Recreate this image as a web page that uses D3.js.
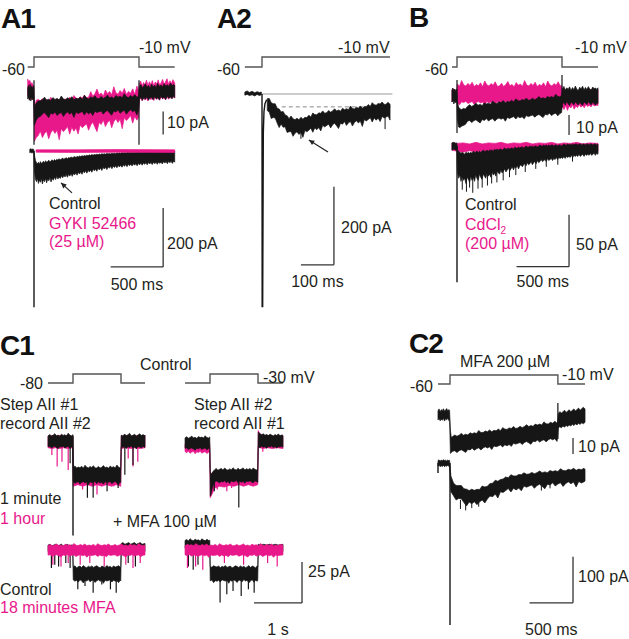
<!DOCTYPE html>
<html><head><meta charset="utf-8">
<script src="https://cdn.jsdelivr.net/npm/d3@7"></script>
<style>body{margin:0;background:#fff}text{font-family:"Liberation Sans",Arial,Helvetica,sans-serif}</style>
</head><body><script>
// ---------------- DATA (time in ms, current in pA, voltage in mV) ----------------
const A1_volt = [[-60,-60],[0,-60],[0,-10],[1000,-10],[1000,-60],[1340,-60]];
const A2_volt = [[-52,-60],[0,-60],[0,-10],[388,-10]];
const B_volt  = [[-48,-60],[0,-60],[0,-10],[1000,-10],[1000,-60],[1343,-60]];
const C1L_volt = [[-520,-80],[0,-80],[0,-30],[1000,-30],[1000,-80],[1500,-80]];
const C1R_volt = [[-520,-80],[0,-80],[0,-30],[1000,-30],[1000,-80],[1520,-80]];
const C2_volt = [[-138,-60],[0,-60],[0,-10],[1240,-10],[1240,-60],[1552,-60]];

// Current envelopes [t, low, high]
const A1_top_control = [[-60,-2.6,2.1],[-52,-1.8,3.4],[-45,-3.2,1.9],[-37,-2.1,3.8],[-30,-3.5,2.4],[-22,-1.7,2.9],[-15,-2.9,1.6],[-8,-2.2,3.1],[-2,-3.0,2.3],
 [4,-14,-6],[20,-12,-4.5],[40,-10.5,-3.5],[60,-10.2,-3.4],[80,-9.1,-2.9],[100,-8.5,-1.8],[120,-9.6,-3.1],[140,-10.7,-2.7],[160,-8.7,-3.3],[180,-9.2,-2.0],[200,-8.3,-2.8],[220,-9.8,-2.4],[240,-8.9,-3.0],[260,-8.5,-1.3],[280,-10.2,-2.6],[300,-8.9,-2.9],[320,-8.3,-2.1],[340,-9.2,-2.7],[360,-8.5,-1.6],[380,-10.6,-2.9],[400,-8.3,-2.3],[420,-8.9,-2.6],[440,-8.5,-1.7],[460,-8.0,-2.9],[480,-9.6,-1.0],[500,-8.2,-2.2],[520,-9.1,-2.6],[540,-8.4,-1.7],[560,-9.8,-2.2],[580,-7.9,-1.2],[600,-8.5,-2.4],[620,-8.1,-2.4],[640,-7.8,-1.5],[660,-9.2,-2.4],[680,-8.1,-1.9],[700,-7.6,-0.9],[720,-8.7,-2.2],[740,-9.7,-1.7],[760,-7.8,-2.4],[780,-8.3,-1.1],[800,-7.3,-1.8],[820,-8.8,-1.4],[840,-8.0,-2.1],[860,-7.5,-0.3],[880,-9.2,-1.6],[900,-8.0,-2.0],[920,-7.3,-1.1],[940,-8.2,-1.7],[960,-7.6,-0.7],[980,-9.6,-1.9],[996,-7.3,-1.3],
 [1004,-2.8,2.6],[1018,-1.9,3.7],[1033,-3.2,2.2],[1047,-2.0,3.1],[1060,-2.7,4.0],[1076,-1.6,2.5],[1090,-3.1,3.3],[1105,-2.2,2.0],[1119,-1.8,3.9],[1134,-2.9,2.7],[1150,-1.5,3.4],[1163,-2.6,2.3],[1178,-2.0,4.2],[1194,-3.0,2.8],[1208,-1.4,3.5],[1223,-2.4,2.6],[1239,-1.7,4.1],[1254,-2.8,3.0],[1270,-1.3,3.6],[1284,-2.3,2.9],[1300,-1.6,4.3],[1315,-2.5,3.2],[1329,-1.2,3.8],[1340,-2.0,3.3]];
const A1_top_gyki = [[-60,-1,6],[-50,-2,5],[-40,-3,5.5],[-30,-2,4],[-20,-3,4.5],[-10,-2,3.5],[-2,-3,3],
 [4,-21,-8],[20,-19.5,-3.2],[40,-18.5,-2.8],[60,-16.5,-3.4],[80,-19.4,-2.5],[100,-17.6,-3.3],[120,-16.6,-2.8],[140,-19.9,-3.5],[160,-17.3,-1.9],[180,-16.0,-3.0],[200,-17.6,-3.3],[220,-16.2,-2.5],[240,-20.3,-3.0],[260,-15.5,-2.0],[280,-16.8,-3.2],[300,-15.8,-2.6],[320,-14.6,-2.9],[340,-17.9,-1.8],[360,-14.9,-2.9],[380,-16.6,-1.1],[400,-15.2,-2.2],[420,-17.8,-2.6],[440,-13.9,-1.7],[460,-15.1,-2.2],[480,-14.2,-0.9],[500,-13.4,-2.0],[520,-16.2,-1.8],[540,-13.9,0.6],[560,-12.7,-1.4],[580,-14.8,-0.3],[600,-16.8,1.7],[620,-12.8,-0.8],[640,-13.7,0.0],[660,-11.7,-1.4],[680,-14.6,1.3],[700,-12.8,-0.3],[720,-11.8,0.6],[740,-15.1,-0.8],[760,-12.5,2.7],[780,-11.2,0.1],[800,-12.8,-0.5],[820,-11.4,1.1],[840,-15.5,-0.1],[860,-10.7,2.0],[880,-12.0,-0.6],[900,-11.0,0.7],[920,-9.8,-0.1],[940,-13.1,1.8],[960,-10.1,-0.6],[980,-11.8,3.0],[996,-10.4,0.8],
 [1004,-3.0,3.8],[1016,-2.1,5.2],[1029,-3.4,3.0],[1043,-1.9,4.6],[1057,-3.1,3.5],[1071,-2.3,5.6],[1085,-3.5,3.2],[1099,-1.8,4.9],[1113,-2.9,3.6],[1127,-2.2,5.4],[1141,-3.3,3.1],[1155,-1.6,4.8],[1169,-2.8,3.9],[1183,-2.0,5.7],[1197,-3.2,3.4],[1211,-1.7,4.5],[1225,-2.6,5.9],[1239,-2.1,3.7],[1253,-3.0,5.0],[1267,-1.5,6.2],[1281,-2.7,3.8],[1295,-1.9,5.3],[1309,-2.4,4.1],[1323,-1.6,5.8],[1340,-2.2,4.4]];
const A1_top_artifacts = [[0,5.5,-22.5],[1000,5.5,-22.5]];

const A1_bot_gyki = [[20,-4,4],[400,-5,4],[800,-4,5],[1340,-5,4]];
const A1_bot_control = [[-40,-6,6],[-30,-4,8],[-20,-7,5],[-10,-5,7],[-2,-6,5],
 [5,-70,-15],[14,-96,-32],[24,-104,-40],[33,-92,-44],[42,-110,-38],[52,-98,-45],[61,-106,-36],[71,-93,-42],[80,-112,-39],[90,-97,-35],[100,-104,-41],[110,-92,-33],[120,-108,-38],[131,-95,-36],[141,-101,-31],[152,-90,-37],[162,-105,-33],[173,-93,-30],[184,-99,-35],[195,-88,-29],[206,-97,-33],[217,-86,-28],[228,-95,-31],[239,-89,-26],[250,-93,-30],[262,-84,-27],[273,-91,-24],[284,-83,-28],[296,-88,-25],[307,-80,-23],[318,-89,-26],[330,-79,-22],[341,-85,-24],[353,-77,-20],[364,-86,-23],[376,-76,-21],[387,-81,-19],[399,-74,-22],[410,-82,-18],[422,-72,-20],[434,-78,-17],[445,-70,-19],[457,-79,-16],[469,-69,-18],[480,-74,-15],[492,-67,-17],[504,-75,-14],[515,-65,-16],[527,-71,-13],[539,-64,-15],[551,-72,-12],[563,-62,-14],[575,-67,-12],[587,-61,-13],[598,-69,-11],[610,-59,-13],[622,-64,-10],[634,-58,-12],[646,-66,-9],[658,-56,-11],[670,-61,-9],[682,-55,-11],[694,-63,-8],[706,-54,-10],[718,-58,-8],[730,-52,-10],[742,-60,-7],[754,-51,-9],[766,-56,-7],[778,-50,-9],[790,-57,-6],[802,-49,-8],[814,-54,-6],[826,-48,-8],[838,-55,-5],[850,-47,-7],[862,-52,-5],[874,-46,-7],[886,-53,-5],[898,-45,-6],[910,-50,-4],[922,-44,-6],[934,-51,-4],[946,-43,-6],[958,-48,-4],[970,-43,-5],[982,-50,-3],[994,-42,-5],[1006,-47,-3],[1018,-41,-5],[1030,-48,-3],[1042,-41,-4],[1054,-45,-2],[1066,-40,-4],[1078,-47,-2],[1090,-39,-4],[1102,-44,-2],[1114,-39,-4],[1126,-46,-1],[1138,-38,-3],[1150,-43,-2],[1162,-38,-4],[1174,-45,-1],[1186,-37,-3],[1198,-42,-1],[1210,-37,-3],[1222,-44,-1],[1234,-36,-3],[1246,-41,-1],[1258,-36,-2],[1270,-43,0],[1282,-35,-2],[1294,-40,0],[1306,-35,-2],[1318,-42,0],[1330,-34,-2],[1340,-38,-1]];
const A1_bot_artifacts = [[0,0,-530]];

const A2_pre = [[-52,-3,5],[-45,-1,8],[-38,-4,4],[-30,-2,7],[-22,-5,3],[-15,-1,6],[-8,-4,4],[-2,-2,5]];
const A2_transient = [[0,0],[0.5,-545],[2,-545],[4,-100],[6,-45],[9,-25],[14,-15]];
const A2_control = [[16,-42.5,-12],[22,-46.4,-11.4],[28,-62.9,-22.6],[34,-60.2,-24.8],[40,-61.7,-25],[46,-74.4,-36.4],[52,-86.1,-38.4],[58,-76.8,-46],[64,-85.3,-44.6],[70,-84,-53.6],[76,-98.5,-55.6],[82,-96.9,-63.2],[88,-96.1,-56.4],[94,-108.5,-63.7],[100,-100.6,-65.8],[106,-96.9,-62.3],[112,-103.7,-66],[118,-98.5,-59.8],[124,-111.2,-64.6],[130,-93.6,-59.9],[136,-97,-60.4],[142,-92.7,-54.5],[148,-87.7,-59],[154,-98.1,-48.7],[160,-86.8,-52.8],[166,-91.6,-53.3],[172,-85.9,-48.2],[178,-94.7,-49.6],[184,-80.4,-43.4],[190,-84.3,-49.2],[196,-80.5,-47.8],[202,-77.4,-42.4],[208,-86.9,-46.6],[214,-78.7,-43.3],[220,-74.7,-38],[226,-81.4,-43.4],[232,-88.6,-40.9],[238,-74.8,-44],[244,-77.3,-36.6],[250,-70.5,-40.1],[256,-80.5,-37.6],[262,-73.9,-40.2],[268,-70.6,-30.9],[274,-82,-37.2],[280,-73.1,-38.3],[286,-68.4,-33.8],[292,-74.2,-36.5],[298,-69.5,-30.8],[304,-83.2,-36.6],[310,-65.6,-31.9],[316,-69,-32.4],[322,-65.2,-27],[328,-60.7,-32],[334,-71.6,-22.2],[340,-61.3,-27.3],[346,-67.1,-28.8],[352,-61.9,-24.2],[358,-70.7,-25.6],[364,-57.4,-20.4],[370,-61.8,-26.7],[376,-59,-26.3],[382,-56.4,-21.4],[388,-66.9,-26.6]];
const A2_spikes = [[118,-80,-115],[373,-45,-90]];
const A2_baseline = [0, 395];
const A2_plateau = [-33, 60, 395];

const B_top_control = [[-48,-3,3],[-40,-2,4],[-30,-4,2.5],[-20,-2.5,3.5],[-10,-3.5,2],[-2,-2,3.5],
 [4,-12,-3],[15,-15.5,-5.5],[30,-15.8,-6.5],[45,-15,-6.8],[60,-14.8,-6.2],[80,-14.2,-6.5],
 [100,-12.6,-5.2],[120,-12.2,-4.4],[140,-13.3,-5.2],[160,-12.4,-4.6],[180,-11.9,-3.6],[200,-12.7,-4.6],[220,-13.5,-4.2],[240,-11.8,-4.7],[260,-12.2,-3.5],[280,-11.3,-4.0],[300,-12.5,-3.6],[320,-11.7,-4.1],[340,-11.3,-2.5],[360,-12.6,-3.5],[380,-11.5,-3.7],[400,-11.0,-2.9],[420,-11.6,-3.3],[440,-11.0,-2.3],[460,-12.6,-3.4],[480,-10.7,-2.7],[500,-11.2,-3.0],[520,-10.7,-2.1],[540,-10.3,-3.0],[560,-11.5,-1.4],[580,-10.3,-2.3],[600,-10.9,-2.5],[620,-10.4,-1.8],[640,-11.4,-2.1],[660,-9.8,-1.0],[680,-10.3,-2.1],[700,-9.9,-1.9],[720,-9.5,-1.1],[740,-10.6,-1.9],[760,-9.7,-1.3],[780,-9.2,-0.3],[800,-10.0,-1.3],[820,-10.8,-0.9],[840,-9.1,-1.4],[860,-9.5,-0.2],[880,-8.6,-0.7],[900,-9.8,-0.3],[920,-9.0,-0.8],[940,-8.6,0.9],[960,-9.9,-0.2],[980,-8.8,-0.4],[996,-8.3,0.4],
 [1004,-4.2,3.6],[1018,-3.1,4.8],[1031,-4.6,2.9],[1045,-2.8,4.1],[1059,-3.9,3.3],[1072,-4.8,4.6],[1086,-3.0,2.8],[1100,-3.7,4.2],[1114,-4.4,3.1],[1127,-2.9,5.0],[1141,-3.8,3.4],[1155,-4.5,2.7],[1168,-3.2,4.4],[1182,-3.9,3.6],[1196,-4.7,4.9],[1210,-3.0,3.0],[1223,-3.6,4.3],[1237,-4.3,3.2],[1251,-2.8,4.7],[1264,-3.7,3.5],[1278,-4.4,2.9],[1292,-3.1,4.5],[1306,-3.8,3.7],[1320,-4.6,4.0],[1333,-3.3,3.3],[1343,-3.8,4.1]];
const B_top_cd = [[-48,-3,3],[-30,-2,3.5],[-10,-3,2.5],[-2,-2,3],
 [4,-3.6,6.0],[24,-4.4,4.9],[44,-2.9,7.7],[64,-3.3,5.5],[84,-2.6,5.0],[104,-3.8,6.3],[124,-3.2,5.3],[144,-2.8,6.9],[164,-4.2,4.7],[184,-3.2,5.8],[204,-2.8,5.1],[224,-3.5,6.6],[244,-3.0,4.6],[264,-4.7,7.5],[284,-2.8,5.6],[304,-3.4,5.0],[324,-3.1,6.2],[344,-2.7,5.4],[364,-4.0,7.1],[384,-2.9,4.9],[404,-3.6,5.0],[424,-3.2,6.4],[444,-4.3,4.7],[464,-2.8,5.6],[484,-3.3,7.2],[504,-3.0,5.1],[524,-2.8,5.8],[544,-4.0,4.6],[564,-3.1,6.7],[584,-2.7,5.4],[604,-3.6,6.0],[624,-4.4,4.9],[644,-2.9,7.7],[664,-3.3,5.5],[684,-2.6,5.0],[704,-3.8,6.3],[724,-3.2,5.3],[744,-2.8,6.9],[764,-4.2,4.7],[784,-3.2,5.8],[804,-2.8,5.1],[824,-3.5,6.6],[844,-3.0,4.6],[864,-4.7,7.5],[884,-2.8,5.6],[904,-3.4,5.0],[924,-3.1,6.2],[944,-2.7,5.4],[964,-4.0,7.1],[984,-2.9,4.9],[996,-3.2,5.6],
 [1004,-5.5,2.8],[1020,-6.8,2.2],[1036,-4.6,3.1],[1052,-7.2,2.5],[1068,-5.1,3.4],[1084,-6.0,2.0],[1100,-4.4,2.9],[1116,-6.6,2.4],[1132,-5.0,3.3],[1148,-5.8,2.1],[1164,-4.3,3.0],[1180,-5.6,2.6],[1196,-4.8,3.5],[1212,-5.9,2.3],[1228,-4.2,2.8],[1244,-5.3,3.1],[1260,-4.6,2.2],[1276,-5.5,3.4],[1292,-4.1,2.7],[1308,-5.0,3.0],[1324,-4.5,2.4],[1343,-4.8,3.2]];
const B_top_artifacts = [[0,8,-18.5],[1000,10.5,-5.5]];
const B_bot_cd = [[-48,-4,3],[0,-5,2.5],[60,-6,3],[120,-4.5,2],[180,-6,3.5],[240,-5,2],[300,-6.5,3],[360,-4.5,2.5],[420,-6,3.5],[480,-5,2],[540,-6,3],[600,-4.5,2.5],[660,-6,3.5],[720,-5,2],[780,-6.5,3],[840,-4.5,2.5],[900,-6,3.5],[960,-5,2],[1020,-6,3],[1080,-4.5,2.5],[1140,-6,3.5],[1200,-5,2],[1260,-6,3],[1343,-5,2.5]];
const B_bot_control = [[-48,-4,3],[-30,-3,3.5],[-10,-4,2.5],[-2,-3,3],
 [4,-25,-4],[15,-31,-5],[27,-28,-6],[38,-34,-7],[50,-29,-6],[62,-33,-7],[73,-31,-8],[85,-36,-6],[97,-30,-7],[108,-32,-6],[120,-35,-7],[131,-29,-6],[143,-33,-7],[155,-30,-5],[167,-34,-6],[178,-28,-6],[190,-31,-5],[202,-33,-6],[214,-27,-5],[226,-30,-6],[238,-32,-5],[250,-27,-4],[262,-29,-5],[274,-31,-5],[286,-26,-4],[298,-29,-5],[310,-27,-4],[322,-30,-4],[334,-25,-4],[346,-28,-5],[358,-26,-3],[370,-29,-4],[382,-24,-3],[394,-26,-4],[406,-27,-3],[418,-23,-3],[430,-26,-4],[442,-24,-3],[454,-22,-2],[466,-25,-3],[478,-23,-3],[490,-21,-2],[502,-24,-3],[514,-22,-2],[526,-20,-2],[538,-23,-3],[550,-20,-1],[562,-21,-2],[574,-19,-2],[586,-22,-1],[598,-19,-2],[610,-18,-1],[622,-20,-1],[634,-18,-2],[646,-17,-1],[658,-19,0],[670,-16,-1],[682,-18,-1],[694,-17,0],[706,-15,-1],[718,-18,0],[730,-16,-1],[742,-15,0],[754,-17,0],[766,-14,-1],[778,-16,0],[790,-15,1],[802,-13,0],[814,-15,0],[826,-14,1],[838,-13,0],[850,-15,1],[862,-12,0],[874,-14,1],[886,-13,0],[898,-12,1],[910,-14,1],[922,-12,0],[934,-13,1],[946,-11,1],[958,-13,0],[970,-11,1],[982,-12,1],[994,-11,0],[1006,-12,1],[1018,-10,2],[1030,-12,1],[1042,-10,1],[1054,-11,2],[1066,-10,1],[1078,-11,2],[1090,-9,1],[1102,-11,2],[1114,-9,1],[1126,-10,2],[1138,-9,2],[1150,-10,1],[1162,-8,2],[1174,-10,2],[1186,-9,1],[1198,-8,2],[1210,-10,2],[1222,-8,1],[1234,-9,2],[1246,-8,2],[1258,-9,1],[1270,-7,2],[1282,-9,2],[1294,-8,1],[1306,-7,2],[1318,-9,2],[1330,-7,1],[1343,-8,2]];
const B_bot_spikes = [[50,-25,-42],[90,-28,-44],[120,-27,-40],[150,-28,-45],[200,-26,-41],[240,-25,-40],[290,-24,-38],[330,-24,-36],[380,-22,-35],[440,-20,-33],[500,-19,-30],[560,-17,-28],[650,-15,-25],[750,-13,-22],[850,-11,-20],[960,-10,-18],[1100,-8,-15]];
const B_bot_artifacts = [[0,0,-131]];

const C1_UL_1min = [[-520,-2.9,3.7],[-485,-2.6,4.6],[-450,-3.7,3.6],[-415,-2.9,4.1],[-380,-2.6,5.1],[-345,-3.3,3.8],[-310,-4.1,4.2],[-275,-2.8,3.5],[-240,-3.1,4.8],[-205,-2.5,4.0],[-170,-3.6,4.4],[-135,-3.0,3.7],[-100,-2.7,5.4],[-65,-3.9,4.1],[-30,-3.1,3.7],[-5,-2.6,4.5],
 [5,-24,-15.6],[40,-25.2,-14.6],[75,-24.6,-15.9],[110,-24.2,-15.3],[145,-25.6,-15.7],[180,-24.6,-14.8],[215,-24.2,-16],[250,-24.9,-14.2],[285,-24.4,-15.4],[320,-26.1,-15.8],[355,-24.2,-15],[390,-24.8,-15.5],[425,-24.5,-14.5],[460,-24.1,-15.8],[495,-25.4,-15.8],[530,-24.3,-14.9],[565,-25,-15.9],[600,-24.6,-15.4],[635,-25.7,-14.4],[670,-24.2,-15.7],[705,-24.7,-15.3],[740,-24.4,-16],[775,-24.2,-14.7],[810,-25.4,-15.5],[845,-24.5,-15.1],[880,-24.1,-15.8],[915,-25,-14.1],[950,-25.8,-15.4],[985,-24.3,-15.8],[995,-24.7,-15.0],
 [1005,-2.8,4.2],[1040,-3.4,3.6],[1075,-2.6,4.9],[1110,-3.9,3.8],[1145,-2.9,4.4],[1180,-3.2,5.3],[1215,-2.5,3.7],[1250,-3.6,4.1],[1285,-3.0,4.7],[1320,-4.2,3.5],[1355,-2.7,4.3],[1390,-3.1,5.0],[1425,-3.5,3.9],[1460,-2.6,4.5],[1495,-3.3,3.7],[1500,-2.9,4.2]];
const C1_UL_1hour = [[-520,-3.5,3.5],[-440,-4,4],[-360,-3.5,3.5],[-280,-4,4],[-200,-3.5,3.5],[-120,-4,4],[-40,-3.5,3.5],[-5,-4,3],
 [5,-27,-17],[100,-26,-16],[200,-27,-17],[300,-26,-16],[400,-27,-17],[500,-26,-16],[600,-27,-17],[700,-26,-16],[800,-27,-17],[900,-26,-16],[995,-27,-17],
 [1005,-4,3.5],[1100,-3.5,4],[1200,-4,3.5],[1300,-3.5,4],[1400,-4,3.5],[1500,-3.5,4]];
const C1_UL_1min_spikes = [[-60,-2,-13],[300,-24,-34],[420,-24,-34],[710,-24,-30],[940,-24,-28],[1080,-2,-20],[1250,-2,-14]];
const C1_UL_1hour_spikes = [[-440,-3,-8],[-330,-3,-15],[-230,-3,-12],[-100,-3,-17],[200,-24,-29],[500,-24,-32],[850,-24,-27],[1150,-3,-10],[1250,-3,-15],[1350,-3,-12]];
const C1_UL_artifacts = [[0,4,-57]];

const C1_UR_1min = [[-520,-3.8,2.5],[-485,-3.6,3.2],[-450,-4.6,2.3],[-415,-3.9,2.8],[-380,-3.6,3.6],[-345,-4.2,2.5],[-310,-5.0,2.9],[-275,-3.8,2.2],[-240,-4.1,3.3],[-205,-3.5,2.7],[-170,-4.5,3.0],[-135,-3.9,2.4],[-100,-3.7,3.8],[-65,-4.8,2.7],[-30,-4.0,2.4],[-5,-3.6,3.1],
 [5,-33,-18],[20,-32,-20],[40,-29,-19],[60,-27,-18],
 [95,-24.6,-17.0],[130,-23.8,-16.1],[165,-24.2,-17.3],[200,-25.0,-16.6],[235,-23.9,-16.2],[270,-24.4,-17.1],[305,-23.6,-15.9],[340,-24.8,-16.8],[375,-24.0,-17.2],[410,-25.3,-16.4],[445,-23.7,-16.9],[480,-24.3,-15.7],[515,-24.1,-16.7],[550,-23.5,-17.0],[585,-24.9,-16.0],[620,-23.9,-16.9],[655,-24.5,-16.5],[690,-24.0,-15.8],[725,-25.1,-17.1],[760,-23.8,-16.3],[795,-24.2,-16.8],[830,-23.6,-16.2],[865,-24.4,-17.0],[900,-24.9,-15.9],[935,-23.7,-16.6],[970,-24.1,-17.2],[995,-24.6,-16.1],
 [1005,-2.8,6.0],[1040,-3.5,5.1],[1075,-2.6,4.4],[1110,-3.2,5.0],[1145,-2.9,4.1],[1180,-3.8,4.6],[1215,-2.7,3.9],[1250,-3.1,4.8],[1285,-2.5,4.2],[1320,-3.4,3.7],[1355,-2.8,4.5],[1390,-3.6,4.0],[1425,-2.9,4.9],[1460,-3.0,3.8],[1495,-2.6,4.3],[1520,-3.2,4.1]];
const C1_UR_1hour = [[-520,-5.8,-1.2],[-485,-6.6,-0.8],[-450,-5.5,-1.5],[-415,-6.9,-1.0],[-380,-6.1,-0.6],[-345,-5.7,-1.3],[-310,-7.2,-1.1],[-275,-6.0,-0.7],[-240,-6.4,-1.4],[-205,-5.6,-0.9],[-170,-6.8,-1.2],[-135,-6.2,-0.5],[-100,-5.9,-1.0],[-65,-7.0,-1.3],[-30,-6.3,-0.8],[-5,-6.0,-1.1],
 [5,-34,-20],[40,-32,-19],[100,-28,-18],[200,-27,-18],[300,-27.5,-18],[400,-26.5,-17.5],[500,-27,-18],[600,-26,-17.5],[700,-27,-18],[800,-26,-17.5],[900,-27,-18],[995,-26,-17.5],
 [1005,-3,7],[1040,-3.5,5],[1100,-4,4],[1200,-3.5,4],[1300,-4,3.5],[1400,-3.5,4],[1520,-4,3.5]];
const C1_UR_1min_spikes = [[600,-22,-40],[90,-24,-30]];
const C1_UR_1hour_spikes = [[150,-23,-29],[350,-23,-30],[450,-23,-28],[1100,-2,-6]];

const C1_LL_control = [[-520,-1,3],[-480,-0.5,3.5],[-440,-1.5,2.5],[-400,-0.5,3],[-360,-1,3.5],[-320,-1.5,2.5],[-280,-0.5,3],[-240,-1,3.5],[-200,-1.5,2.5],[-160,-0.5,3],[-120,-1,3.5],[-80,-1.5,2.5],[-40,-0.5,3],[-5,-1,3],
 [5,-18.2,-10.4],[40,-19.0,-9.6],[75,-18.5,-10.9],[110,-19.6,-10.2],[145,-18.1,-9.8],[180,-18.8,-10.7],[215,-20.1,-9.5],[250,-18.4,-10.3],[285,-18.9,-10.8],[320,-18.0,-9.9],[355,-19.4,-10.5],[390,-18.6,-9.7],[425,-18.3,-10.6],[460,-19.8,-10.1],[495,-18.7,-9.6],[530,-18.2,-10.4],[565,-19.1,-10.9],[600,-18.5,-9.8],[635,-20.3,-10.2],[670,-18.4,-10.6],[705,-18.9,-9.5],[740,-18.6,-10.3],[775,-18.1,-10.0],[810,-19.5,-10.8],[845,-18.5,-9.7],[880,-19.0,-10.4],[915,-18.7,-10.1],[950,-19.9,-9.6],[985,-18.3,-10.5],[995,-18.8,-10.2],
 [1005,-1,4],[1040,-0.5,4.5],[1080,-1.5,3.5],[1120,-0.5,4],[1160,-1,4.5],[1200,-1.5,3.5],[1240,-0.5,4],[1280,-1,4.5],[1320,-1.5,3.5],[1360,-0.5,4],[1400,-1,4.5],[1440,-1.5,3.5],[1500,-1,4]];
const C1_LL_mfa = [[-520,-3.1,2.7],[-475,-2.9,3.3],[-430,-3.8,2.6],[-385,-3.2,3.0],[-340,-2.9,3.7],[-295,-3.5,2.7],[-250,-4.2,3.0],[-205,-3.0,2.5],[-160,-3.3,3.5],[-115,-2.8,2.9],[-70,-3.7,3.2],[-25,-3.2,2.6],[20,-3.0,3.9],[65,-4.0,2.9],[110,-3.2,2.7],[155,-2.9,3.3],[200,-3.5,2.8],[245,-3.1,3.6],[290,-4.4,2.6],[335,-3.0,3.0],[380,-3.4,2.7],[425,-3.2,3.4],[470,-2.9,2.5],[515,-3.9,3.8],[560,-3.0,3.0],[605,-3.6,2.7],[650,-3.2,3.2],[695,-4.1,2.9],[740,-2.9,3.6],[785,-3.3,2.6],[830,-3.1,2.7],[875,-2.9,3.3],[920,-3.8,2.6],[965,-3.2,3.0],[1010,-2.9,3.7],[1055,-3.5,2.7],[1100,-4.2,3.0],[1145,-3.0,2.5],[1190,-3.3,3.5],[1235,-2.8,2.9],[1280,-3.7,3.2],[1325,-3.2,2.6],[1370,-3.0,3.9],[1415,-4.0,2.9],[1460,-3.2,2.7],[1500,-3.0,3.0]];
const C1_LL_control_spikes = [[-450,0,-11],[-380,0,-9],[-300,0,-10],[-150,0,-8],[-60,0,-11],[100,-17,-24],[250,-17,-22],[420,-17,-26],[600,-17,-21],[780,-17,-24],[900,-17,-26],[1150,0,-8],[1300,0,-10]];
const C1_LL_mfa_spikes = [[-420,-2,-9],[-250,-2,-10],[-100,-2,-8],[150,-2,-9],[350,-2,-8],[650,-2,-10],[1100,-2,-9],[1250,-2,-11],[1400,-2,-8]];

const C1_LR_control = [[-520,1.0,5.8],[-485,1.5,6.4],[-450,0.6,5.5],[-415,1.2,6.9],[-380,0.8,6.0],[-345,1.7,5.7],[-310,0.9,6.6],[-275,1.3,5.9],[-240,0.5,6.2],[-205,1.1,5.4],[-170,1.6,6.8],[-135,0.7,6.1],[-100,1.2,5.6],[-65,0.9,6.5],[-30,1.4,5.8],[-5,1.0,6.0],
 [5,-18.8,-10.2],[40,-18.3,-10.5],[75,-19.9,-9.6],[110,-18.7,-10.1],[145,-19.0,-10.4],[180,-18.5,-9.7],[215,-19.5,-10.8],[250,-18.1,-10.0],[285,-18.6,-10.3],[320,-18.9,-9.5],[355,-18.4,-10.6],[390,-20.3,-10.2],[425,-18.5,-9.8],[460,-19.1,-10.9],[495,-18.2,-10.4],[530,-18.7,-9.6],[565,-19.8,-10.1],[600,-18.3,-10.6],[635,-18.6,-9.7],[670,-19.4,-10.5],[705,-18.0,-9.9],[740,-18.9,-10.8],[775,-18.4,-10.3],[810,-20.1,-9.5],[845,-18.8,-10.7],[880,-18.1,-9.8],[915,-19.6,-10.2],[950,-18.5,-10.9],[985,-19.0,-9.6],[995,-18.2,-10.4],
 [1005,-1,3.5],[1060,-1.5,3],[1120,-0.5,3.5],[1180,-1,3],[1240,-1.5,3.5],[1300,-0.5,3],[1360,-1,3.5],[1420,-1.5,3],[1520,-1,3.5]];
const C1_LR_mfa = [[-520,-3.0,2.5],[-475,-3.3,3.5],[-430,-2.8,2.9],[-385,-3.7,3.2],[-340,-3.2,2.6],[-295,-3.0,3.9],[-250,-4.0,2.9],[-205,-3.2,2.7],[-160,-2.9,3.3],[-115,-3.5,2.8],[-70,-3.1,3.6],[-25,-4.4,2.6],[20,-3.0,3.0],[65,-3.4,2.7],[110,-3.2,3.4],[155,-2.9,2.5],[200,-3.9,3.8],[245,-3.0,3.0],[290,-3.6,2.7],[335,-3.2,3.2],[380,-4.1,2.9],[425,-2.9,3.6],[470,-3.3,2.6],[515,-3.1,2.7],[560,-2.9,3.3],[605,-3.8,2.6],[650,-3.2,3.0],[695,-2.9,3.7],[740,-3.5,2.7],[785,-4.2,3.0],[830,-3.0,2.5],[875,-3.3,3.5],[920,-2.8,2.9],[965,-3.7,3.2],[1010,-3.2,2.6],[1055,-3.0,3.9],[1100,-4.0,2.9],[1145,-3.2,2.7],[1190,-2.9,3.3],[1235,-3.5,2.8],[1280,-3.1,3.6],[1325,-4.4,2.6],[1370,-3.0,3.0],[1415,-3.4,2.7],[1460,-3.2,3.4],[1520,-3.0,3.0]];
const C1_LR_control_spikes = [[-450,1,-10],[-350,1,-12],[-250,1,-9],[210,-17,-32],[350,-17,-27],[480,-17,-25],[650,-17,-28],[800,-17,-24],[920,-17,-26]];
const C1_LR_mfa_spikes = [[-470,-2,-11],[-300,-2,-10],[-150,-2,-12],[300,-2,-8],[700,-2,-9],[1200,-2,-8],[1400,-2,-10]];

const C2_top = [[-138,-3.1,2.6],[-126,-2.2,3.8],[-113,-3.6,2.1],[-101,-2.6,3.3],[-88,-3.3,2.7],[-76,-2.0,3.9],[-63,-3.8,2.4],[-51,-2.4,3.1],[-38,-3.0,4.0],[-26,-2.1,2.5],[-13,-3.5,3.4],[-5,-2.7,2.8],
 [5,-24,-10],[15,-23.5,-14.0],[30,-22.7,-13.5],[55,-22.3,-12.5],[80,-23.5,-13.3],[105,-22.3,-12.6],[130,-21.7,-11.5],[155,-22.5,-12.6],[180,-23.4,-12.0],[205,-21.5,-12.5],[230,-21.8,-11.1],[255,-20.8,-11.7],[280,-22.0,-11.1],[305,-21.1,-11.6],[330,-20.5,-9.7],[355,-21.9,-10.9],[380,-20.6,-11.0],[405,-19.9,-10.0],[430,-20.6,-10.5],[455,-19.9,-9.3],[480,-21.6,-10.5],[505,-19.3,-9.6],[530,-19.8,-9.9],[555,-19.3,-8.8],[580,-18.7,-9.8],[605,-20.0,-7.9],[630,-18.6,-8.8],[655,-19.2,-9.0],[680,-18.5,-8.1],[705,-19.6,-8.4],[730,-17.7,-7.2],[755,-18.2,-8.4],[780,-17.7,-8.1],[805,-17.2,-7.1],[830,-18.4,-7.9],[855,-17.2,-7.2],[880,-16.6,-6.1],[905,-17.4,-7.2],[930,-18.3,-6.6],[955,-16.4,-7.1],[980,-16.7,-5.7],[1005,-15.7,-6.3],[1030,-16.9,-5.7],[1055,-16.0,-6.2],[1080,-15.4,-4.3],[1105,-16.8,-5.5],[1130,-15.5,-5.6],[1155,-14.8,-4.6],[1180,-15.5,-5.1],[1205,-14.8,-3.9],[1230,-16.5,-5.1],[1236,-14.5,-5.0],
 [1245,-8.2,0.8],[1262,-7.4,2.1],[1280,-8.0,1.2],[1298,-6.9,1.9],[1316,-7.6,3.0],[1334,-6.5,1.6],[1352,-7.2,2.4],[1370,-6.3,3.3],[1388,-6.9,2.0],[1406,-5.8,2.9],[1424,-6.6,3.8],[1442,-5.5,2.5],[1460,-6.2,3.4],[1478,-5.1,4.3],[1496,-5.9,3.0],[1514,-4.8,3.9],[1532,-5.5,4.8],[1552,-4.6,3.8]];
const C2_top_artifacts = [[1240,7.5,-15]];
const C2_bot = [[-138,-7,5],[-126,-5,7],[-113,-8,4],[-101,-6,6.5],[-88,-7.5,5],[-76,-5.5,7],[-63,-8,5.5],[-51,-6,6],[-38,-7,4.5],[-26,-5,6.5],[-13,-7.5,5],[-5,-6,6],
 [10,-62,-28],[40,-71,-43.5],[70,-80.5,-48.8],[100,-77,-49],[130,-77.5,-49],[160,-86,-56],[190,-93.5,-56.8],[220,-85,-60],[250,-88.5,-57],[280,-84,-59.5],[310,-90.5,-57.3],[340,-84.5,-57.5],[370,-80.5,-50],[400,-87,-52.3],[430,-78,-50.3],[460,-72,-44.8],[490,-73.5,-43.8],[520,-67.5,-37.5],[550,-76,-39.8],[580,-62.5,-35.8],[610,-64,-35],[640,-60,-30.3],[670,-55.5,-32],[700,-63,-25.5],[730,-55,-28],[760,-58.5,-28.3],[790,-54.5,-25],[820,-60.5,-25.5],[850,-50,-21.3],[880,-52.5,-24.5],[910,-50,-23.8],[940,-48,-20.5],[970,-55,-23.3],[1000,-49,-21],[1030,-46,-17.5],[1060,-51,-21],[1090,-56,-19.3],[1120,-46,-21],[1150,-48,-16.5],[1180,-43,-18.5],[1210,-50,-16.8],[1240,-45.5,-18.5],[1270,-43,-12.5],[1300,-51,-16.3],[1330,-44.5,-16.8],[1360,-41,-13.8],[1390,-45,-15.3],[1420,-41.5,-11.5],[1450,-52,-15.8],[1480,-40,-13.3],[1510,-43.5,-14.5],[1540,-41,-11.3],[1552,-39,-14]];
const C2_bot_spikes = [[120,-80,-100],[180,-85,-103],[250,-85,-98],[330,-82,-95],[1050,-40,-60],[1150,-38,-55]];
const C2_bot_artifacts = [[0,0,-352],[-138,0,-22]];

// Labels
const panelLabels = ['A1','A2','B','C1','C2'];
const voltLabels = {A1:['-60','-10 mV'], A2:['-60','-10 mV'], B:['-60','-10 mV'], C1:['-80','-30 mV'], C2:['-60','-10 mV']};
const scaleLabels = {A1:['10 pA','200 pA','500 ms'], A2:['200 pA','100 ms'], B:['10 pA','50 pA','500 ms'], C1:['25 pA','1 s'], C2:['10 pA','100 pA','500 ms']};
const legendA1 = ['Control','GYKI 52466','(25 µM)'];
const legendB = ['Control','CdCl','(200 µM)'];
const legendC1 = ['1 minute','1 hour','Control','18 minutes MFA'];

// ---------------- DRAWING ----------------
const MAG = '#e8188b', BLK = '#161616', GRAY = '#555', TXT = '#231f20';
const svg = d3.select('body').append('svg').attr('width',629).attr('height',639).style('display','block');

function band(data, xs, ys, color){
  svg.append('path').datum(data)
    .attr('d', d3.area().x(d=>xs(d[0])).y0(d=>ys(d[1])).y1(d=>ys(d[2])))
    .attr('fill', color).attr('stroke', color).attr('stroke-width', 0.7);
}
function vlines(data, xs, ys, color, w){
  svg.append('g').selectAll('line').data(data).join('line')
    .attr('x1', d=>xs(d[0])).attr('x2', d=>xs(d[0]))
    .attr('y1', d=>ys(d[1])).attr('y2', d=>ys(d[2]))
    .attr('stroke', color).attr('stroke-width', w||1);
}
function volt(data, xs, vs){
  svg.append('path').datum(data)
    .attr('d', d3.line().x(d=>xs(d[0])).y(d=>vs(d[1])))
    .attr('fill','none').attr('stroke', GRAY).attr('stroke-width', 1.4);
}
function seg(x1,y1,x2,y2,color,w,dash){
  const l = svg.append('line').attr('x1',x1).attr('y1',y1).attr('x2',x2).attr('y2',y2)
    .attr('stroke',color||'#333').attr('stroke-width',w||1.3);
  if (dash) l.attr('stroke-dasharray',dash);
}
function txt(x,y,s,o={}){
  return svg.append('text').attr('x',x).attr('y',y).text(s)
    .attr('font-size', o.size||16).attr('fill', o.color||TXT)
    .attr('text-anchor', o.anchor||'start').attr('font-weight', o.weight||'normal')
    .attr('letter-spacing', o.ls||0);
}
function arrow(x1,y1,x2,y2){
  seg(x1,y1,x2,y2,'#222',1.2);
  const a = Math.atan2(y2-y1,x2-x1), L=6, s=0.45;
  svg.append('path').attr('d', `M${x2},${y2} L${x2-L*Math.cos(a-s)},${y2-L*Math.sin(a-s)} L${x2-L*Math.cos(a+s)},${y2-L*Math.sin(a+s)} Z`).attr('fill','#222');
}

const plPos = [[1,28],[217,28],[409,27],[0,355],[409,353]];
panelLabels.forEach((p,i)=>txt(plPos[i][0],plPos[i][1],p,{size:28,weight:'bold',ls:-1,color:'#111'}));

// ---- A1 ----
const xA1 = d3.scaleLinear().domain([0,1000]).range([34,139]);
const vA1 = d3.scaleLinear().domain([-60,-10]).range([67,57]);
const yA1t = d3.scaleLinear().domain([0,-10]).range([93,116]);
const yA1b = d3.scaleLinear().domain([0,-200]).range([151,210]);
volt(A1_volt, xA1, vA1);
txt(25,75,voltLabels.A1[0],{anchor:'end'}); txt(139,53,voltLabels.A1[1]);
band(A1_top_gyki, xA1, yA1t, MAG);
band(A1_top_control, xA1, yA1t, BLK);
vlines(A1_top_artifacts, xA1, yA1t, BLK, 1.2);
band(A1_bot_control, xA1, yA1b, BLK);
vlines(A1_bot_artifacts, xA1, yA1b, BLK, 1.4);
band(A1_bot_gyki, xA1, yA1b, MAG);
seg(xA1(1230), yA1t(-8), xA1(1230), yA1t(-18));
txt(167,128,scaleLabels.A1[0]);
seg(xA1(1230), yA1b(-193), xA1(1230), yA1b(-393));
seg(xA1(730), yA1b(-393), xA1(1230), yA1b(-393));
txt(167,249,scaleLabels.A1[1]);
txt((xA1(730)+xA1(1230))/2,290,scaleLabels.A1[2],{anchor:'middle'});
txt(49,209,legendA1[0]); txt(49,229,legendA1[1],{color:MAG}); txt(49,247,legendA1[2],{color:MAG});
arrow(xA1(362), yA1b(-142), xA1(257), yA1b(-108));

// ---- A2 ----
const xA2 = d3.scaleLinear().domain([0,100]).range([262,295]);
const vA2 = d3.scaleLinear().domain([-60,-10]).range([67,57]);
const yA2 = d3.scaleLinear().domain([0,-200]).range([94,172]);
volt(A2_volt, xA2, vA2);
txt(240,75,voltLabels.A2[0],{anchor:'end'}); txt(338,53,voltLabels.A2[1]);
seg(xA2(0), yA2(0), xA2(A2_baseline[1]), yA2(0), '#999', 1);
seg(xA2(A2_plateau[1]), yA2(A2_plateau[0]), xA2(A2_plateau[2]), yA2(A2_plateau[0]), '#888', 1, '4,3');
band(A2_pre, xA2, yA2, BLK);
svg.append('path').datum(A2_transient).attr('d', d3.line().x(d=>xA2(d[0])).y(d=>yA2(d[1])))
  .attr('fill','none').attr('stroke',BLK).attr('stroke-width',1.4);
band(A2_control, xA2, yA2, BLK);
vlines(A2_spikes, xA2, yA2, BLK, 1);
seg(xA2(218), yA2(-238), xA2(218), yA2(-438));
seg(xA2(118), yA2(-438), xA2(218), yA2(-438));
txt(341,233,scaleLabels.A2[0]);
txt((xA2(118)+xA2(218))/2,287,scaleLabels.A2[1],{anchor:'middle'});
arrow(xA2(200), yA2(-149), xA2(142), yA2(-118));

// ---- B ----
const xB = d3.scaleLinear().domain([0,1000]).range([457,562]);
const vB = d3.scaleLinear().domain([-60,-10]).range([67,57]);
const yBt = d3.scaleLinear().domain([0,-10]).range([96,116]);
const yBb = d3.scaleLinear().domain([0,-50]).range([146,198]);
volt(B_volt, xB, vB);
txt(448,75,voltLabels.B[0],{anchor:'end'}); txt(575,53,voltLabels.B[1]);
band(B_top_cd, xB, yBt, MAG);
band(B_top_control, xB, yBt, BLK);
vlines(B_top_artifacts, xB, yBt, BLK, 1.2);
band(B_bot_cd, xB, yBb, MAG);
band(B_bot_control, xB, yBb, BLK);
vlines(B_bot_spikes, xB, yBb, BLK, 1);
vlines(B_bot_artifacts, xB, yBb, BLK, 1.4);
seg(xB(1067), yBt(-9.5), xB(1067), yBt(-19.5));
txt(576,133,scaleLabels.B[0]);
seg(xB(1067), yBb(-66), xB(1067), yBb(-116));
seg(xB(567), yBb(-116), xB(1067), yBb(-116));
txt(576,250,scaleLabels.B[1]);
txt((xB(567)+xB(1067))/2,287,scaleLabels.B[2],{anchor:'middle'});
txt(465,210,legendB[0]);
const cd = txt(465,230,legendB[1],{color:MAG});
cd.append('tspan').text('2').attr('font-size',10).attr('dy',4);
txt(465,249,legendB[2],{color:MAG});

// ---- C1 ----
const xC1L = d3.scaleLinear().domain([0,1000]).range([73,121]);
const xC1R = d3.scaleLinear().domain([0,1000]).range([210,258]);
const vC1 = d3.scaleLinear().domain([-80,-30]).range([383,374]);
const yC1u = d3.scaleLinear().domain([0,-25]).range([442,483]);
const yC1l = d3.scaleLinear().domain([0,-25]).range([550,591]);
txt(140,370,'Control');
volt(C1L_volt, xC1L, vC1); volt(C1R_volt, xC1R, vC1);
txt(43,389,voltLabels.C1[0],{anchor:'end'}); txt(263,383,voltLabels.C1[1]);
txt(0,410,'Step AII #1'); txt(0,429,'record AII #2');
txt(194,410,'Step AII #2'); txt(194,429,'record AII #1');
band(C1_UL_1hour, xC1L, yC1u, MAG); vlines(C1_UL_1hour_spikes, xC1L, yC1u, MAG, 1.2);
band(C1_UL_1min, xC1L, yC1u, BLK); vlines(C1_UL_1min_spikes, xC1L, yC1u, BLK, 1.2);
vlines(C1_UL_artifacts, xC1L, yC1u, BLK, 1.4);
band(C1_UR_1hour, xC1R, yC1u, MAG); vlines(C1_UR_1hour_spikes, xC1R, yC1u, MAG, 1.2);
band(C1_UR_1min, xC1R, yC1u, BLK); vlines(C1_UR_1min_spikes, xC1R, yC1u, BLK, 1.2);
txt(0,504,legendC1[0]); txt(0,524,legendC1[1],{color:MAG});
txt(113,527,'+ MFA 100 µM');
band(C1_LL_control, xC1L, yC1l, BLK); vlines(C1_LL_control_spikes, xC1L, yC1l, BLK, 1.2);
band(C1_LL_mfa, xC1L, yC1l, MAG); vlines(C1_LL_mfa_spikes, xC1L, yC1l, MAG, 1.2);
band(C1_LR_control, xC1R, yC1l, BLK); vlines(C1_LR_control_spikes, xC1R, yC1l, BLK, 1.2);
band(C1_LR_mfa, xC1R, yC1l, MAG); vlines(C1_LR_mfa_spikes, xC1R, yC1l, MAG, 1.2);
txt(0,595,legendC1[2]); txt(0,613,legendC1[3],{color:MAG});
seg(xC1R(1917), yC1l(-7.3), xC1R(1917), yC1l(-32.3));
seg(xC1R(917), yC1l(-32.3), xC1R(1917), yC1l(-32.3));
txt(308,577,scaleLabels.C1[0]);
txt((xC1R(917)+xC1R(1917))/2,635,scaleLabels.C1[1],{anchor:'middle'});

// ---- C2 ----
const xC2 = d3.scaleLinear().domain([0,500]).range([450,493.5]);
const vC2 = d3.scaleLinear().domain([-60,-10]).range([384,375]);
const yC2t = d3.scaleLinear().domain([0,-10]).range([415,431]);
const yC2b = d3.scaleLinear().domain([0,-100]).range([463,509]);
txt(460,367,'MFA 200 µM');
volt(C2_volt, xC2, vC2);
txt(433,392,voltLabels.C2[0],{anchor:'end'}); txt(562,380,voltLabels.C2[1]);
band(C2_top, xC2, yC2t, BLK);
vlines(C2_top_artifacts, xC2, yC2t, BLK, 1.2);
band(C2_bot, xC2, yC2b, BLK);
vlines(C2_bot_spikes, xC2, yC2b, BLK, 1);
vlines(C2_bot_artifacts, xC2, yC2b, BLK, 1.4);
seg(xC2(1414), yC2t(-14.4), xC2(1414), yC2t(-24.4));
txt(578,452,scaleLabels.C2[0]);
seg(xC2(1414), yC2b(-204), xC2(1414), yC2b(-304));
seg(xC2(914), yC2b(-304), xC2(1414), yC2b(-304));
txt(578,582,scaleLabels.C2[1]);
txt((xC2(914)+xC2(1414))/2,635,scaleLabels.C2[2],{anchor:'middle'});
</script></body></html>
